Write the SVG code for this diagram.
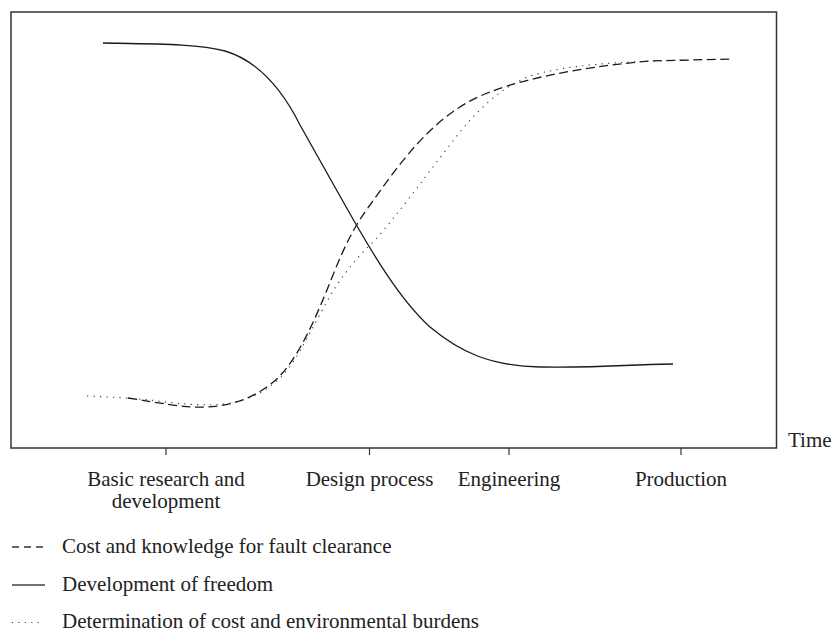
<svg xmlns="http://www.w3.org/2000/svg" width="833" height="633" viewBox="0 0 833 633">
  <style>
    text { font-family: "Liberation Serif", "Times New Roman", serif; font-size: 21px; fill: #222; }
    .frame { fill: none; stroke: #333; stroke-width: 1.5; }
    .tick { stroke: #333; stroke-width: 1.2; }
    .solid { fill: none; stroke: #1a1a1a; stroke-width: 1.3; }
    .dashed { fill: none; stroke: #1a1a1a; stroke-width: 1.3; stroke-dasharray: 9 4.5; }
    .dotted { fill: none; stroke: #333; stroke-width: 1.1; stroke-dasharray: 1.2 5.3; }
    .mid { text-anchor: middle; }
  </style>
  <rect width="833" height="633" fill="#fff"/>
  <g id="axes">
    <rect class="frame" x="11" y="12" width="765.5" height="436"/>
    <line class="tick" x1="166" y1="448" x2="166" y2="455"/>
    <line class="tick" x1="369.5" y1="448" x2="369.5" y2="455"/>
    <line class="tick" x1="509" y1="448" x2="509" y2="455"/>
    <line class="tick" x1="681" y1="448" x2="681" y2="455"/>
    <text x="788" y="447">Time</text>
  </g>
  <g id="labels">
    <text class="mid" x="166" y="486">Basic research and</text>
    <text class="mid" x="166" y="508">development</text>
    <text class="mid" x="369.5" y="486">Design process</text>
    <text class="mid" x="509" y="486">Engineering</text>
    <text class="mid" x="681" y="486">Production</text>
  </g>
  <g id="curves">
    <path id="freedom" class="solid" d="M103,43 C160,44 200,44 225,51 C255,60 280,85 300,125 L345,205 C372,253 400,300 430,327 C460,352 490,366 540,367 C600,368 640,364 673,364"/>
    <path id="cost-knowledge" class="dashed" d="M128,398 C160,403 185,408 205,407 C235,406 258,396 278,378 C300,355 315,320 333,275 C345,245 355,225 370,205 C400,163 435,112 490,92 C530,76 600,65 650,61 L732,59"/>
    <path id="determination" class="dotted" d="M87,396 C110,397 130,398 150,400 C180,404 200,406 225,404 C250,400 265,392 280,378 C300,358 315,320 335,288 C350,265 360,255 375,240 C400,212 430,170 460,132 C480,108 500,88 530,76 C570,64 620,62 680,60"/>
  </g>
  <g id="legend">
    <g id="legend-dashed">
      <line x1="12" y1="547" x2="44" y2="547" stroke="#333" stroke-width="1.3" stroke-dasharray="7 5"/>
      <text x="62" y="553">Cost and knowledge for fault clearance</text>
    </g>
    <g id="legend-solid">
      <line x1="12" y1="585" x2="45" y2="585" stroke="#444" stroke-width="1.5"/>
      <text x="62" y="590.5">Development of freedom</text>
    </g>
    <g id="legend-dotted">
      <line x1="12" y1="622.5" x2="44" y2="622.5" stroke="#444" stroke-width="1.1" stroke-dasharray="1.2 5.2"/>
      <text x="62" y="628">Determination of cost and environmental burdens</text>
    </g>
  </g>
</svg>
